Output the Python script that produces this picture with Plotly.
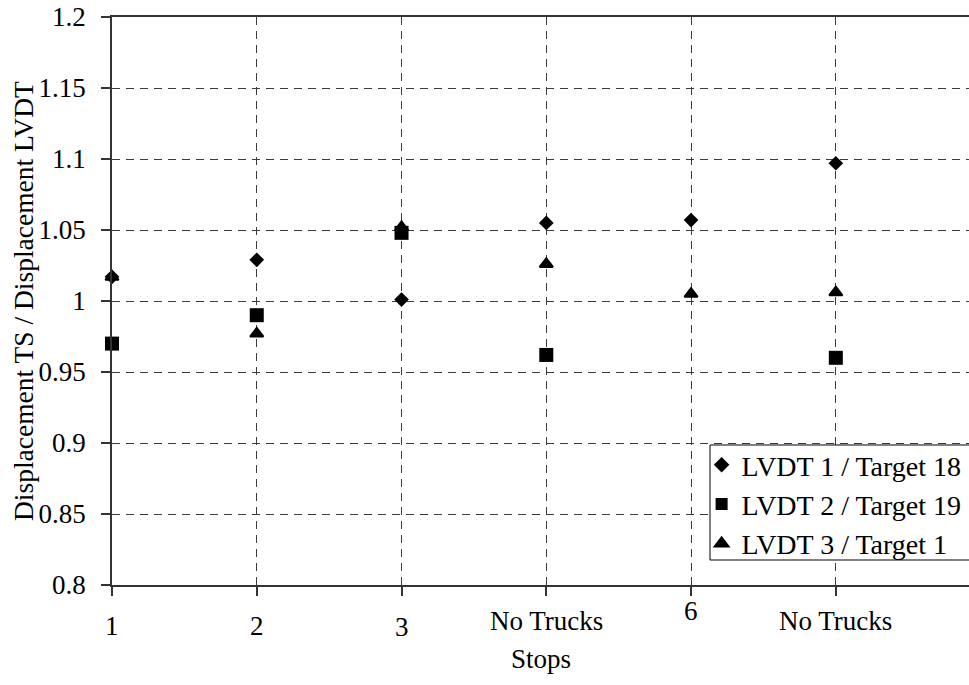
import plotly.graph_objects as go

# Stop index along the horizontal axis and the label printed under each stop
stops = [1, 2, 3, 4, 5, 6]
stop_labels = ["1", "2", "3", "No Trucks", "6", "No Trucks"]

# Ratio of total-station displacement to LVDT displacement at each stop
lvdt1_t18 = [1.017, 1.029, 1.001, 1.055, 1.057, 1.097]
lvdt2_t19 = [0.970, 0.990, 1.048, 0.962, None, 0.960]
lvdt3_t1 = [1.017, 0.977, 1.052, 1.026, 1.005, 1.006]

y_ticks = [0.8, 0.85, 0.9, 0.95, 1.0, 1.05, 1.1, 1.15, 1.2]
y_tick_text = ["0.8", "0.85", "0.9", "0.95", "1", "1.05", "1.1", "1.15", "1.2"]

FONT = "Liberation Serif, Times New Roman, serif"
INK = "black"
GRID = "#3c3c3c"

# per-label vertical drop below the axis line (px)
label_drop = [40.5, 40.5, 42, 36, 26, 36]

fig = go.Figure()
fig.add_trace(go.Scatter(
    x=stops, y=lvdt1_t18, mode="markers", name="LVDT 1 / Target 18",
    cliponaxis=False,
    marker=dict(symbol="diamond", size=11.3, color=INK, line=dict(width=0)),
))
fig.add_trace(go.Scatter(
    x=stops, y=lvdt2_t19, mode="markers", name="LVDT 2 / Target 19",
    cliponaxis=False,
    marker=dict(symbol="square", size=14, color=INK, line=dict(width=0)),
))
fig.add_trace(go.Scatter(
    x=stops, y=lvdt3_t1, mode="markers", name="LVDT 3 / Target 1",
    cliponaxis=False,
    marker=dict(symbol="triangle-up", size=11.5, color=INK,
                line=dict(width=2, color=INK)),
))

annotations = []
for xv, txt, drop in zip(stops, stop_labels, label_drop):
    annotations.append(dict(
        x=xv, xref="x", y=0, yref="paper", text=txt, showarrow=False,
        xanchor="center", yanchor="middle", yshift=-drop,
        font=dict(family=FONT, size=27, color=INK),
    ))
annotations.append(dict(
    x=0.5, xref="paper", y=0, yref="paper", text="Stops", showarrow=False,
    xanchor="center", yanchor="middle", yshift=-74,
    font=dict(family=FONT, size=27, color=INK),
))
annotations.append(dict(
    x=-0.1038, xref="paper", y=0.5, yref="paper",
    text="Displacement TS / Displacement LVDT", showarrow=False,
    textangle=-90, xanchor="center", yanchor="middle",
    font=dict(family=FONT, size=27.5, color=INK),
))

# white legend frame, open past the right edge of the page
legend_frame = dict(
    type="rect", xref="paper", yref="paper",
    x0=0.6978, x1=1.02, y0=0.044, y1=0.2465,
    line=dict(color=INK, width=1), fillcolor="white", layer="above",
)

fig.update_layout(
    width=969, height=685,
    margin=dict(l=112, r=0, t=17, b=100, autoexpand=False),
    paper_bgcolor="white", plot_bgcolor="white",
    font=dict(family=FONT, size=27, color=INK),
    showlegend=True,
    legend=dict(
        x=0.688, y=0.2553, xanchor="left", yanchor="top",
        bgcolor="rgba(0,0,0,0)", borderwidth=0,
        font=dict(family=FONT, size=28, color=INK),
        itemsizing="constant",
    ),
    shapes=[legend_frame],
    annotations=annotations,
)

fig.update_xaxes(
    range=[1, 6.92], tickvals=stops, showticklabels=False,
    ticks="outside", ticklen=9, tickcolor="#333", tickwidth=1.5,
    showline=True, linecolor="#333", linewidth=1.5, mirror=True,
    showgrid=True, gridcolor=GRID, gridwidth=1, griddash="8px,6px",
    zeroline=False, automargin=False,
)
fig.update_yaxes(
    range=[0.8, 1.2], tickvals=y_ticks, ticktext=y_tick_text,
    ticks="outside", ticklen=9, tickcolor="#333", tickwidth=1.5,
    ticklabelstandoff=10,
    tickfont=dict(family=FONT, size=27, color=INK),
    showline=True, linecolor="#333", linewidth=1.5,
    showgrid=True, gridcolor=GRID, gridwidth=1, griddash="8px,6px",
    zeroline=False, automargin=False,
)

fig.write_html("out.html")
